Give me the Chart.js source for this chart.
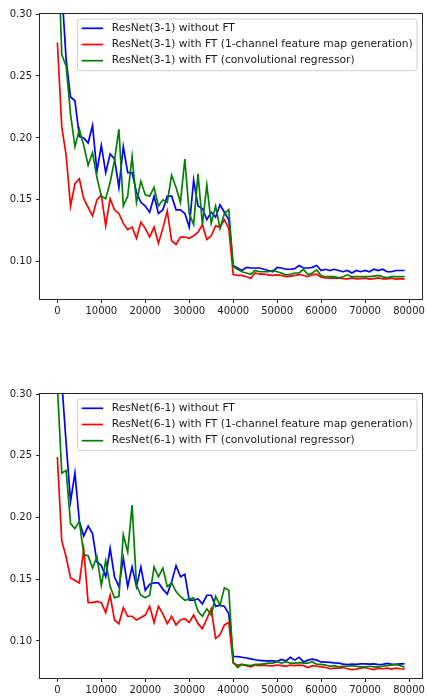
<!DOCTYPE html>
<html>
<head>
<meta charset="utf-8">
<script src="https://cdn.jsdelivr.net/npm/chart.js@4.4.1/dist/chart.umd.min.js"></script>
<style>
  html, body { margin: 0; padding: 0; background: #fff; }
  body { width: 427px; height: 697px; position: relative; overflow: hidden; }
  canvas { position: absolute; left: 0; }
  #c1 { top: 0; }
  #c2 { top: 340px; }
</style>
</head>
<body>
<canvas id="c1" width="427" height="340"></canvas>
<canvas id="c2" width="427" height="357"></canvas>
<script>
// ---------- data ----------
const iterations = [0,1000,2000,3000,4000,5000,6000,7000,8000,9000,10000,11000,12000,13000,14000,15000,16000,17000,18000,19000,
  20000,21000,22000,23000,24000,25000,26000,27000,28000,29000,30000,31000,32000,33000,34000,35000,36000,37000,38000,39000,
  40000,41000,42000,43000,44000,45000,46000,47000,48000,49000,50000,51000,52000,53000,54000,55000,56000,57000,58000,59000,
  60000,61000,62000,63000,64000,65000,66000,67000,68000,69000,70000,71000,72000,73000,74000,75000,76000,77000,78000,79000];

const xTickValues = [0,10000,20000,30000,40000,50000,60000,70000,80000];
const yTickValues = [0.10,0.15,0.20,0.25,0.30];

const labels31 = ["ResNet(3-1) without FT",
  "ResNet(3-1) with FT (1-channel feature map generation)",
  "ResNet(3-1) with FT (convolutional regressor)"];
const labels61 = ["ResNet(6-1) without FT",
  "ResNet(6-1) with FT (1-channel feature map generation)",
  "ResNet(6-1) with FT (convolutional regressor)"];

const r31Without = [0.40,0.32,0.263,0.233,0.230,0.201,0.200,0.196,0.210,0.173,
  0.194,0.172,0.187,0.183,0.160,0.193,0.172,0.172,0.156,0.148,
  0.145,0.140,0.153,0.139,0.142,0.153,0.153,0.142,0.142,0.139,
  0.128,0.166,0.145,0.143,0.134,0.140,0.136,0.146,0.140,0.134,
  0.097,0.095,0.093,0.0955,0.095,0.095,0.095,0.094,0.093,0.092,
  0.0955,0.095,0.094,0.094,0.0945,0.097,0.095,0.095,0.0955,0.097,
  0.093,0.094,0.093,0.094,0.093,0.092,0.093,0.091,0.093,0.092,
  0.093,0.092,0.094,0.093,0.094,0.092,0.092,0.093,0.093,0.093];
const r31FeatMap = [0.277,0.209,0.186,0.145,0.163,0.167,0.151,0.144,0.137,0.150,
  0.154,0.129,0.151,0.142,0.139,0.131,0.126,0.128,0.119,0.132,
  0.127,0.120,0.128,0.115,0.127,0.141,0.117,0.114,0.120,0.120,
  0.119,0.121,0.124,0.130,0.118,0.121,0.129,0.128,0.134,0.127,
  0.090,0.089,0.089,0.088,0.0868,0.091,0.090,0.090,0.0895,0.089,
  0.0895,0.089,0.088,0.0885,0.089,0.0898,0.089,0.088,0.0895,0.090,
  0.0876,0.087,0.0868,0.0868,0.087,0.0865,0.0862,0.087,0.0862,0.0865,
  0.0868,0.086,0.0865,0.087,0.0862,0.0862,0.0868,0.086,0.0865,0.086];
const r31ConvReg = [0.372,0.267,0.258,0.219,0.193,0.207,0.194,0.178,0.188,0.168,
  0.153,0.151,0.164,0.182,0.207,0.145,0.153,0.185,0.148,0.165,
  0.154,0.153,0.160,0.145,0.150,0.148,0.170,0.160,0.148,0.183,
  0.139,0.130,0.171,0.130,0.162,0.131,0.145,0.127,0.139,0.142,
  0.096,0.094,0.092,0.091,0.090,0.093,0.092,0.092,0.092,0.093,
  0.092,0.091,0.0895,0.090,0.091,0.091,0.094,0.0895,0.091,0.0935,
  0.089,0.088,0.088,0.088,0.087,0.088,0.0895,0.088,0.088,0.088,
  0.088,0.088,0.0885,0.089,0.088,0.087,0.088,0.088,0.088,0.088];

const r61Without = [0.36,0.31,0.26,0.213,0.236,0.197,0.185,0.193,0.187,0.164,
  0.161,0.152,0.175,0.152,0.144,0.167,0.144,0.160,0.144,0.160,
  0.141,0.146,0.147,0.147,0.142,0.138,0.148,0.161,0.152,0.154,
  0.133,0.133,0.134,0.130,0.137,0.137,0.128,0.129,0.128,0.122,
  0.0875,0.0873,0.0868,0.0862,0.0855,0.0848,0.0842,0.0838,0.0838,0.0838,
  0.0835,0.0850,0.0838,0.0868,0.0845,0.0868,0.0830,0.0845,0.0852,0.0845,
  0.0830,0.0828,0.0826,0.0822,0.0820,0.0812,0.0808,0.0812,0.0810,0.0815,
  0.0815,0.0812,0.0815,0.0808,0.0810,0.0818,0.0812,0.0810,0.0814,0.0814];
const r61FeatMap = [0.249,0.181,0.168,0.151,0.149,0.147,0.174,0.131,0.131,0.132,
  0.131,0.123,0.137,0.117,0.114,0.127,0.120,0.120,0.117,0.119,
  0.121,0.128,0.115,0.128,0.122,0.114,0.120,0.113,0.117,0.118,
  0.115,0.121,0.114,0.110,0.118,0.126,0.102,0.105,0.113,0.115,
  0.082,0.0805,0.081,0.080,0.079,0.0805,0.080,0.0805,0.080,0.0798,
  0.0805,0.080,0.0795,0.0805,0.080,0.0805,0.080,0.0785,0.080,0.0795,
  0.079,0.0785,0.0775,0.078,0.078,0.0785,0.0775,0.0768,0.0772,0.078,
  0.0785,0.0775,0.0768,0.078,0.0775,0.078,0.0772,0.078,0.0775,0.0772];
const r61ConvReg = [0.307,0.236,0.238,0.195,0.191,0.197,0.170,0.169,0.159,0.168,
  0.145,0.165,0.144,0.135,0.136,0.186,0.172,0.210,0.145,0.137,
  0.135,0.137,0.160,0.152,0.159,0.144,0.147,0.140,0.136,0.133,
  0.134,0.135,0.124,0.120,0.126,0.121,0.136,0.129,0.143,0.141,
  0.083,0.0785,0.081,0.0805,0.080,0.081,0.081,0.0815,0.082,0.082,
  0.0833,0.082,0.0832,0.082,0.082,0.0825,0.082,0.082,0.0832,0.081,
  0.081,0.0805,0.0795,0.080,0.079,0.0795,0.0795,0.080,0.0795,0.079,
  0.079,0.0795,0.079,0.079,0.0795,0.080,0.0805,0.081,0.080,0.0787];

const seriesColors = ['#0000ff', '#ff0000', '#008000'];

// ---------- helpers ----------
Chart.defaults.font.family = "'DejaVu Sans', sans-serif";
Chart.defaults.color = '#1a1a1a';

const frameAndLegend = {
  id: 'frameAndLegend',
  afterDraw(chart) {
    const ctx = chart.ctx;
    const a = chart.chartArea;
    ctx.save();
    // spines
    ctx.strokeStyle = '#262626';
    ctx.lineWidth = 1;
    ctx.strokeRect(Math.round(a.left) - 0.5, Math.round(a.top) - 0.5,
                   Math.round(a.right - a.left) + 1, Math.round(a.bottom - a.top) + 1);
    // legend
    const fs = 10.7;
    ctx.font = fs + "px 'DejaVu Sans', sans-serif";
    const ds = chart.data.datasets.slice().sort((p, q) => p.legendIndex - q.legendIndex);
    let maxW = 0;
    ds.forEach(d => { maxW = Math.max(maxW, ctx.measureText(d.label).width); });
    const pad = 4.3, handle = 21.4, gap = 8.6, rowH = 16.2;
    const boxW = pad + handle + gap + maxW + pad;
    const boxH = 51.7;
    const bx = a.right - 5 - boxW;
    const by = a.top + 5;
    ctx.beginPath();
    const r = 2.5;
    ctx.moveTo(bx + r, by);
    ctx.lineTo(bx + boxW - r, by);
    ctx.arcTo(bx + boxW, by, bx + boxW, by + r, r);
    ctx.lineTo(bx + boxW, by + boxH - r);
    ctx.arcTo(bx + boxW, by + boxH, bx + boxW - r, by + boxH, r);
    ctx.lineTo(bx + r, by + boxH);
    ctx.arcTo(bx, by + boxH, bx, by + boxH - r, r);
    ctx.lineTo(bx, by + r);
    ctx.arcTo(bx, by, bx + r, by, r);
    ctx.closePath();
    ctx.fillStyle = 'rgba(255,255,255,0.8)';
    ctx.fill();
    ctx.strokeStyle = '#d0d0d0';
    ctx.lineWidth = 1;
    ctx.stroke();
    ctx.textBaseline = 'middle';
    ctx.textAlign = 'left';
    ds.forEach((d, i) => {
      const y = by + 9.3 + i * rowH;
      ctx.strokeStyle = d.borderColor;
      ctx.lineWidth = 1.7;
      ctx.beginPath();
      ctx.moveTo(bx + pad, y);
      ctx.lineTo(bx + pad + handle, y);
      ctx.stroke();
      ctx.fillStyle = '#1a1a1a';
      ctx.fillText(d.label, bx + pad + handle + gap, y);
    });
    ctx.restore();
  }
};

function makeChart(id, seriesList, labels, pad, xAxisHeight) {
  const datasets = seriesList.map((vals, i) => ({
    label: labels[i],
    legendIndex: i,
    data: iterations.map((x, j) => ({ x: x, y: vals[j] })),
    borderColor: seriesColors[i],
    backgroundColor: seriesColors[i],
    borderWidth: 1.7,
    pointRadius: 0,
    tension: 0,
    fill: false,
    clip: 0,
    order: 2 - i
  }));
  return new Chart(document.getElementById(id), {
    type: 'line',
    data: { datasets },
    options: {
      responsive: false,
      animation: false,
      devicePixelRatio: 1,
      layout: { padding: pad },
      plugins: { legend: { display: false }, tooltip: { enabled: false } },
      scales: {
        x: {
          type: 'linear',
          min: -3950,
          max: 82950,
          border: { display: false },
          grid: { display: true, drawOnChartArea: false, drawTicks: true, tickLength: 4, color: '#262626', lineWidth: 1 },
          ticks: { font: { size: 10 }, padding: 2, color: '#1a1a1a', maxRotation: 0, autoSkip: false,
                   callback: v => String(v) },
          afterBuildTicks: s => { s.ticks = xTickValues.map(v => ({ value: v })); },
          afterFit: s => { s.height = xAxisHeight; s.paddingLeft = 0; s.paddingRight = 0; }
        },
        y: {
          type: 'linear',
          min: 0.07,
          max: 0.30,
          border: { display: false },
          grid: { display: true, drawOnChartArea: false, drawTicks: true, tickLength: 4, color: '#262626', lineWidth: 1 },
          ticks: { font: { size: 10 }, padding: 4, color: '#1a1a1a', autoSkip: false,
                   callback: v => v.toFixed(2) },
          afterBuildTicks: s => { s.ticks = yTickValues.map(v => ({ value: v })); },
          afterFit: s => { s.width = 40; s.paddingTop = 0; s.paddingBottom = 0; }
        }
      }
    },
    plugins: [frameAndLegend]
  });
}

makeChart('c1', [r31Without, r31FeatMap, r31ConvReg], labels31,
  { left: 0, right: 5, top: 14, bottom: 0 }, 41);
makeChart('c2', [r61Without, r61FeatMap, r61ConvReg], labels61,
  { left: 0, right: 5, top: 54, bottom: 0 }, 19);
</script>
</body>
</html>
